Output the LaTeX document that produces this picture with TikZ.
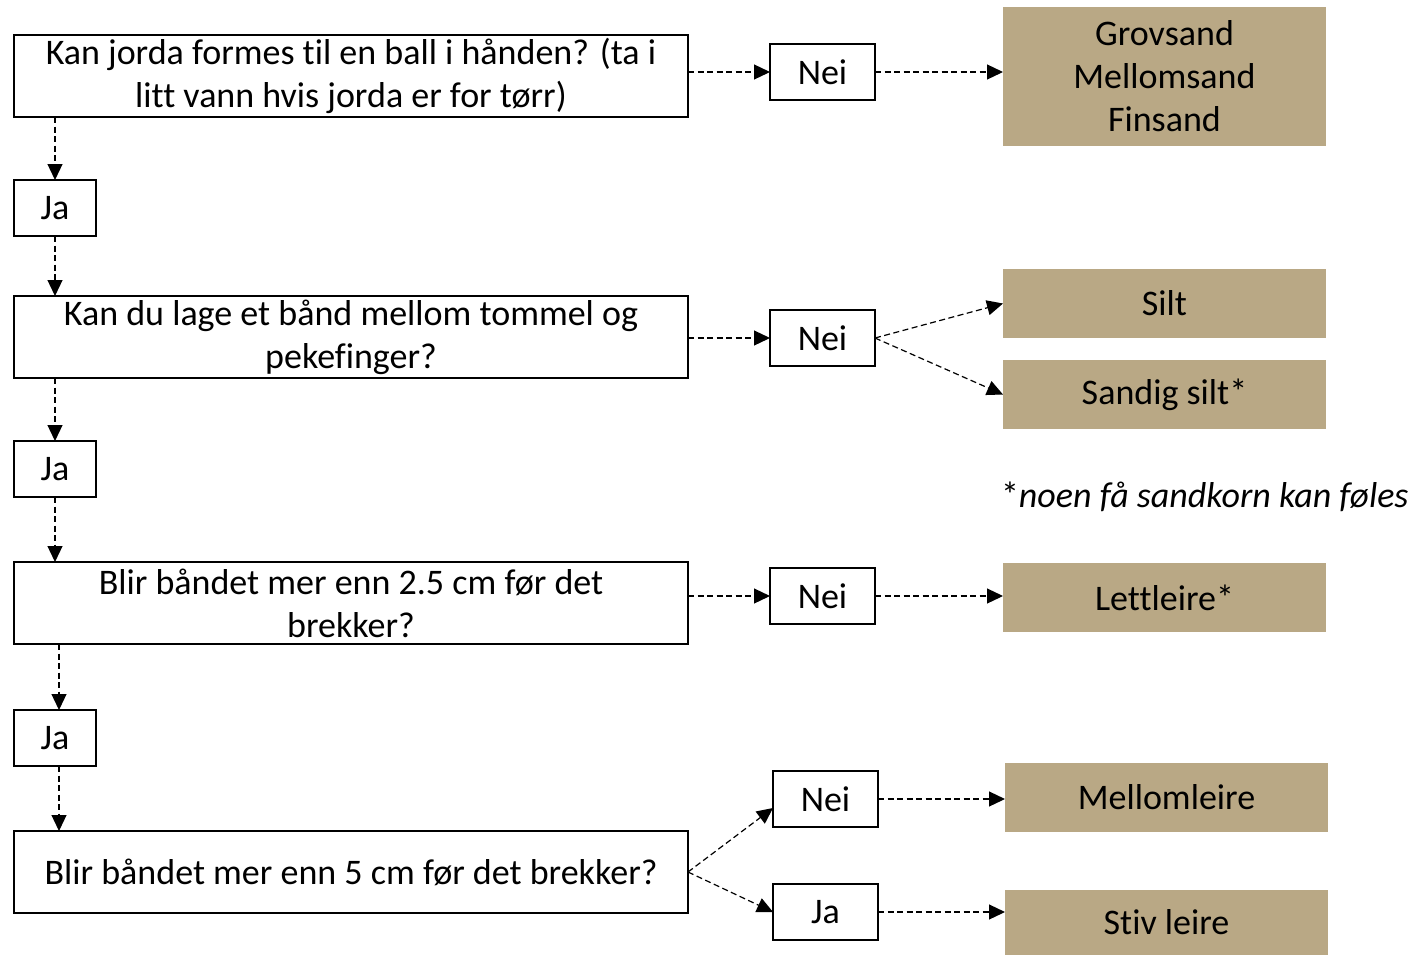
\documentclass[tikz,border=0pt]{standalone}
\usepackage{fontspec}
\setmainfont{Carlito}[Ligatures=NoCommon]
\usetikzlibrary{arrows.meta}
\definecolor{sand}{RGB}{185,168,133}
\begin{document}
\begin{tikzpicture}[x=1pt,y=-1pt,
  every node/.style={inner sep=0pt,outer sep=0pt,font=\fontsize{36}{43}\selectfont},
  question/.style={draw=black,line width=2.2pt,minimum width=674pt,minimum height=82pt,align=center},
  answer/.style={draw=black,line width=2.2pt,minimum width=105pt,minimum height=56pt},
  yes/.style={draw=black,line width=2.2pt,minimum width=82pt,minimum height=56pt},
  result/.style={fill=sand,minimum width=323pt,minimum height=69pt,align=center},
  conn/.style={line width=1.2pt,dash pattern=on 6pt off 3.5pt,-{Triangle[length=16pt,width=15pt]}}]
\useasboundingbox (0,0) rectangle (1413,956);
% questions
\node[question] (q1) at (351,76) {Kan jorda formes til en ball i hånden? (ta i\\litt vann hvis jorda er for tørr)};
\node[question] (q2) at (351,337) {Kan du lage et bånd mellom tommel og\\pekefinger?};
\node[question] (q3) at (351,603) {Blir båndet mer enn 2.5 cm før det\\brekker?};
\node[question] (q4) at (351,872) {Blir båndet mer enn 5 cm før det brekker?};
% yes boxes
\node[yes] (j1) at (55,208) {Ja};
\node[yes] (j2) at (55,469) {Ja};
\node[yes] (j3) at (55,738) {Ja};
% no boxes
\node[answer] (n1) at (822.5,72) {Nei};
\node[answer] (n2) at (822.5,338) {Nei};
\node[answer] (n3) at (822.5,596) {Nei};
\node[answer] (n4) at (825.5,799) {Nei};
\node[answer] (j4) at (825.5,912) {Ja};
% results
\node[result,minimum height=139pt] (r1) at (1164.5,76) {Grovsand\\Mellomsand\\Finsand};
\node[result] (r2) at (1164.5,303.5) {Silt};
\node[result] (r3) at (1164.5,394.5) {Sandig silt*};
\node[result] (r4) at (1164.5,597.5) {Lettleire*};
\node[result] (r5) at (1166.5,797.5) {Mellomleire};
\node[result,minimum height=65pt] (r6) at (1166.5,922.5) {Stiv leire};
\node[anchor=west] (note) at (1001,497) {*\textit{noen få sandkorn kan føles}};
% connectors
\draw[conn] (q1.east |- n1.west) -- (n1.west);
\draw[conn] (n1.east) -- (n1.east -| r1.west);
\draw[conn] (q1.south -| j1) -- (j1.north);
\draw[conn] (j1.south) -- (j1.south |- q2.north);
\draw[conn] (q2.east |- n2.west) -- (n2.west);
\draw[conn] (n2.east) -- (r2.west);
\draw[conn] (n2.east) -- (r3.west);
\draw[conn] (q2.south -| j2) -- (j2.north);
\draw[conn] (j2.south) -- (j2.south |- q3.north);
\draw[conn] (q3.east |- n3.west) -- (n3.west);
\draw[conn] (n3.east) -- (n3.east -| r4.west);
\draw[conn] ([xshift=4pt]q3.south -| j3) -- ([xshift=4pt]j3.north);
\draw[conn] ([xshift=4pt]j3.south) -- ([xshift=4pt]j3.south |- q4.north);
\draw[conn] (q4.east) -- ([yshift=-9pt]n4.west);
\draw[conn] (q4.east) -- (j4.west);
\draw[conn] (n4.east) -- (n4.east -| r5.west);
\draw[conn] (j4.east) -- (j4.east -| r6.west);
\end{tikzpicture}
\end{document}
